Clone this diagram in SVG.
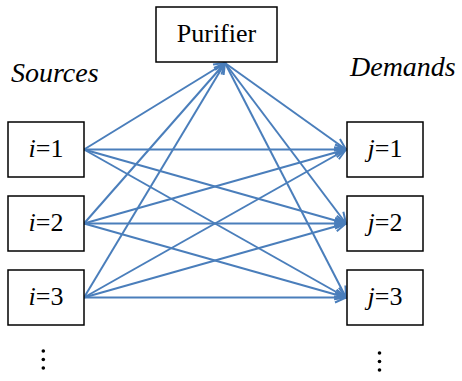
<svg xmlns="http://www.w3.org/2000/svg" width="462" height="381" viewBox="0 0 462 381">
<defs>
<style>
.box{fill:#fff;stroke:#000;stroke-width:1.5}
.t{font-family:"Liberation Serif","Times New Roman",serif;font-size:26px;fill:#000;text-anchor:middle}
.h{font-family:"Liberation Serif","Times New Roman",serif;font-size:28px;font-style:italic;fill:#000}
.c{stroke:#4A7EBB;stroke-width:2;fill:none;marker-end:url(#arr)}
.it{font-style:italic}
</style>
<marker id="arr" markerUnits="userSpaceOnUse" markerWidth="14" markerHeight="14" viewBox="-12 -7 14 14" refX="0" refY="0" orient="auto">
<path d="M-11,-5 L0,0 L-11,5" fill="none" stroke="#4A7EBB" stroke-width="2"/>
</marker>
</defs>
<rect width="462" height="381" fill="#fff"/>
<g id="connectors">
<line class="c" x1="84" y1="149.5" x2="225" y2="63"/>
<line class="c" x1="84" y1="223.5" x2="225" y2="63"/>
<line class="c" x1="84" y1="297.5" x2="225" y2="63"/>
<line class="c" x1="84" y1="149.5" x2="346" y2="149.5"/>
<line class="c" x1="84" y1="149.5" x2="346" y2="223.5"/>
<line class="c" x1="84" y1="149.5" x2="346" y2="297.5"/>
<line class="c" x1="84" y1="223.5" x2="346" y2="149.5"/>
<line class="c" x1="84" y1="223.5" x2="346" y2="223.5"/>
<line class="c" x1="84" y1="223.5" x2="346" y2="297.5"/>
<line class="c" x1="84" y1="297.5" x2="346" y2="149.5"/>
<line class="c" x1="84" y1="297.5" x2="346" y2="223.5"/>
<line class="c" x1="84" y1="297.5" x2="346" y2="297.5"/>
<line class="c" x1="225" y1="63" x2="346" y2="149.5"/>
<line class="c" x1="225" y1="63" x2="346" y2="223.5"/>
<line class="c" x1="225" y1="63" x2="346" y2="297.5"/>
</g>
<g id="purifier">
<rect class="box" x="156" y="7" width="121" height="55"/>
<text class="t" x="216.5" y="42">Purifier</text>
</g>
<g id="sources-label"><text class="h" x="11" y="82">Sources</text></g>
<g id="demands-label"><text class="h" x="350" y="76">Demands</text></g>
<g id="i1">
<rect class="box" x="8" y="122" width="76" height="55"/>
<text class="t" x="46" y="157"><tspan class="it">i</tspan>=1</text>
</g>
<g id="i2">
<rect class="box" x="8" y="196" width="76" height="55"/>
<text class="t" x="46" y="231"><tspan class="it">i</tspan>=2</text>
</g>
<g id="i3">
<rect class="box" x="8" y="270" width="76" height="55"/>
<text class="t" x="46" y="305"><tspan class="it">i</tspan>=3</text>
</g>
<g id="j1">
<rect class="box" x="347" y="122" width="76" height="55"/>
<text class="t" x="385" y="157"><tspan class="it">j</tspan>=1</text>
</g>
<g id="j2">
<rect class="box" x="347" y="196" width="76" height="55"/>
<text class="t" x="385" y="231"><tspan class="it">j</tspan>=2</text>
</g>
<g id="j3">
<rect class="box" x="347" y="270" width="76" height="55"/>
<text class="t" x="385" y="305"><tspan class="it">j</tspan>=3</text>
</g>
<g id="dots-left" fill="#000">
<circle cx="43.3" cy="351" r="1.8"/>
<circle cx="43.3" cy="359.5" r="1.8"/>
<circle cx="43.3" cy="368" r="1.8"/>
</g>
<g id="dots-right" fill="#000">
<circle cx="379.5" cy="353" r="1.8"/>
<circle cx="379.5" cy="361.5" r="1.8"/>
<circle cx="379.5" cy="370" r="1.8"/>
</g>
</svg>
